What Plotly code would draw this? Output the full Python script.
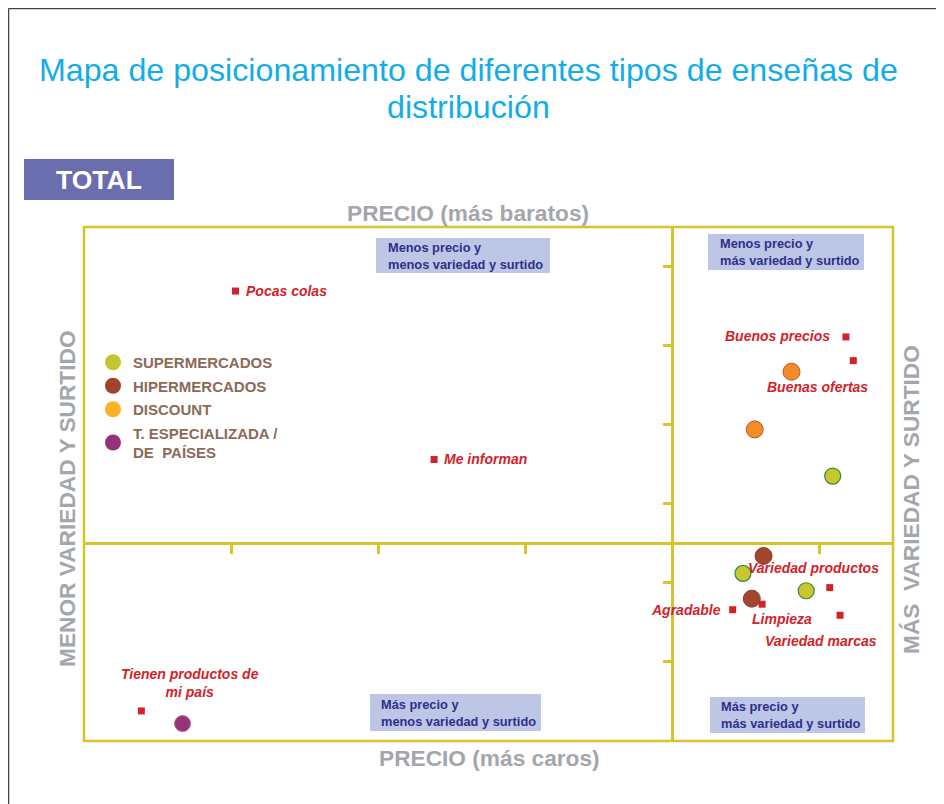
import plotly.graph_objects as go

# ---- data ----
ATTR_NAMES = [
    "Pocas colas", "Me informan", "Buenos precios", "Buenas ofertas",
    "Variedad productos", "Agradable", "Limpieza", "Variedad marcas",
    "Tienen productos de<br>mi país",
]
ATTR_X = [1.03, 2.38, 5.18, 5.23, 5.07, 4.41, 4.61, 5.14, 0.39]
ATTR_Y = [3.19, 1.06, 2.61, 2.31, -0.56, -0.84, -0.77, -0.91, -2.12]

SUPER_X = [5.09, 4.48, 4.91]
SUPER_Y = [0.85, -0.38, -0.60]
HIPER_X = [4.62, 4.54]
HIPER_Y = [-0.16, -0.70]
DISCOUNT_X = [4.81, 4.56]
DISCOUNT_Y = [2.17, 1.44]
ESPEC_X = [0.67]
ESPEC_Y = [-2.28]

LEGEND_NAMES = ["SUPERMERCADOS", "HIPERMERCADOS", "DISCOUNT", "T. ESPECIALIZADA /<br>DE  PAÍSES"]
QUADRANT_TEXT = [
    "Menos precio y<br>menos variedad y surtido",
    "Menos precio y<br>más variedad y surtido",
    "Más precio y<br>menos variedad y surtido",
    "Más precio y<br>más variedad y surtido",
]

X_RANGE = [0, 5.5]
Y_RANGE = [-2.5, 4]
X_SPLIT = 4
Y_SPLIT = 0
X_TICKS = [1, 2, 3, 4, 5]
Y_TICKS = [-1.5, -0.5, 0.5, 1.5, 2.5, 3.5]

# ---- styles ----
FONT = "Arial, Liberation Sans, sans-serif"
PAGE_OFF = 8                 # browser body margin
W, H = 944, 804              # reference picture size
L, R, T, B = 84, 51, 227, 63  # plot area in reference pixels
FRAME = "#D5C42C"
RED = "#D2232A"
GREY = "#A3A6AA"
NAVY = "#2F2E8E"
BOXFILL = "#BDC6E4"
CAP = 22.7

# label placement relative to its square: (xanchor, xshift, yshift) in px
LABEL_POS = [
    ("left", 8, 0), ("left", 8, 0), ("right", -14, 1), ("center", -36, -26),
    ("center", -16, 20), ("right", -10, 0), ("center", 20, -15),
    ("center", -19, -26), ("center", 49, 28),
]


def px_x(px):
    return (px - L) / (W - L - R)


def px_y(py):
    return (H - B - py) / (H - T - B)


def text(x, y, txt, size, color, **kw):
    fig.add_annotation(xref="paper", yref="paper", x=px_x(x), y=px_y(y), text=txt, showarrow=False,
                       xanchor=kw.pop("xanchor", "center"), yanchor="middle",
                       font=dict(family=FONT, size=size, color=color), **kw)


fig = go.Figure()

# data traces
fig.add_trace(go.Scatter(x=ATTR_X, y=ATTR_Y, mode="markers", showlegend=False,
                         marker=dict(symbol="square", size=7, color=RED)))
fig.add_trace(go.Scatter(x=SUPER_X, y=SUPER_Y, mode="markers", showlegend=False,
                         marker=dict(size=16, color="#C8C82E", line=dict(color="#2F8A3B", width=1.2))))
fig.add_trace(go.Scatter(x=HIPER_X, y=HIPER_Y, mode="markers", showlegend=False,
                         marker=dict(size=17, color="#A3462E", line=dict(color="#8E3B26", width=1))))
fig.add_trace(go.Scatter(x=DISCOUNT_X, y=DISCOUNT_Y, mode="markers", showlegend=False,
                         marker=dict(size=17, color="#F38B26", line=dict(color="#B9562A", width=1))))
fig.add_trace(go.Scatter(x=ESPEC_X, y=ESPEC_Y, mode="markers", showlegend=False,
                         marker=dict(size=16, color="#963377", line=dict(color="#B56A9E", width=1))))

# legend-only entries
for i, (name, col) in enumerate(zip(LEGEND_NAMES, ["#C3C62F", "#A0442C", "#FDB123", "#953379"])):
    fig.add_trace(go.Scatter(x=[None], y=[None], mode="markers", name=f"<b>{name}</b>",
                             legendgroup=f"g{i}", marker=dict(size=16, color=col)))

# attribute labels
for name, x, y, (anc, xs, ys) in zip(ATTR_NAMES, ATTR_X, ATTR_Y, LABEL_POS):
    fig.add_annotation(x=x, y=y, text=name, showarrow=False, xanchor=anc, yanchor="middle",
                       xshift=xs, yshift=ys, align="center",
                       font=dict(family=FONT, size=14, color=RED, weight="bold", style="italic"))

shapes = [
    # slide border
    dict(type="line", xref="paper", yref="paper", x0=px_x(8.5), x1=px_x(8.5), y0=px_y(820), y1=px_y(8.5),
         line=dict(color="#444444", width=1.5)),
    dict(type="line", xref="paper", yref="paper", x0=px_x(8.5), x1=px_x(960), y0=px_y(8.5), y1=px_y(8.5),
         line=dict(color="#444444", width=1.5)),
    # plot frame
    dict(type="rect", xref="paper", yref="paper", x0=0, x1=1, y0=0, y1=1,
         line=dict(color=FRAME, width=2.5)),
    # TOTAL box
    dict(type="rect", xref="paper", yref="paper", x0=px_x(24), x1=px_x(174), y0=px_y(200), y1=px_y(159),
         fillcolor="#6A6DAE", line=dict(width=0), layer="below"),
]

# quadrant boxes: (left, right, top, bottom, text-left) px
QUAD_BOX = [(376, 550, 238, 273, 386), (708, 864, 234, 270, 718),
            (370, 541, 694, 731, 379), (710, 865, 697, 733, 719)]
for (x0, x1, y0, y1, tx), txt in zip(QUAD_BOX, QUADRANT_TEXT):
    shapes.append(dict(type="rect", xref="paper", yref="paper", x0=px_x(x0), x1=px_x(x1),
                       y0=px_y(y1), y1=px_y(y0), fillcolor=BOXFILL, line=dict(width=0), layer="below"))
    text(tx, (y0 + y1) / 2, f"<b>{txt}</b>", 12.8, NAVY, xanchor="left", align="left")

fig.update_layout(shapes=shapes)

# titles and axis captions
text(468, 70, "Mapa de posicionamiento de diferentes tipos de enseñas de", 32.2, "#12ADE8")
text(468, 107, "distribución", 32.2, "#12ADE8")
text(99, 180, "<b>TOTAL</b>", 26.5, "white")
text(468, 213, "<b>PRECIO (más baratos)</b>", CAP, GREY)
text(490, 758, "<b>PRECIO (más caros)</b>", CAP, GREY)
text(67, 499, "<b>MENOR VARIEDAD Y SURTIDO</b>", CAP, GREY, textangle=-90)
text(911, 500, "<b>MÁS  VARIEDAD Y SURTIDO</b>", CAP, GREY, textangle=-90)

fig.update_xaxes(range=X_RANGE, anchor="free", position=(Y_SPLIT - Y_RANGE[0]) / (Y_RANGE[1] - Y_RANGE[0]),
                 showline=True, linecolor=FRAME, linewidth=2.5, showgrid=False, zeroline=False,
                 ticks="outside", tickvals=X_TICKS, ticklen=9, tickwidth=2.5, tickcolor=FRAME,
                 showticklabels=False, fixedrange=True)
fig.update_yaxes(range=Y_RANGE, anchor="free", position=(X_SPLIT - X_RANGE[0]) / (X_RANGE[1] - X_RANGE[0]),
                 showline=True, linecolor=FRAME, linewidth=2.5, showgrid=False, zeroline=False,
                 ticks="outside", tickvals=Y_TICKS, ticklen=9, tickwidth=2.5, tickcolor=FRAME,
                 showticklabels=False, fixedrange=True)

fig.update_layout(
    width=W - PAGE_OFF, height=H - PAGE_OFF,
    margin=dict(l=L - PAGE_OFF, r=R, t=T - PAGE_OFF, b=B),
    paper_bgcolor="white", plot_bgcolor="white",
    font=dict(family=FONT),
    legend=dict(x=px_x(93), y=px_y(346), xanchor="left", yanchor="top", bgcolor="rgba(0,0,0,0)",
                font=dict(family=FONT, size=15, color="#8B6A58"), itemsizing="trace",
                tracegroupgap=1),
)

fig.write_html("out.html")
